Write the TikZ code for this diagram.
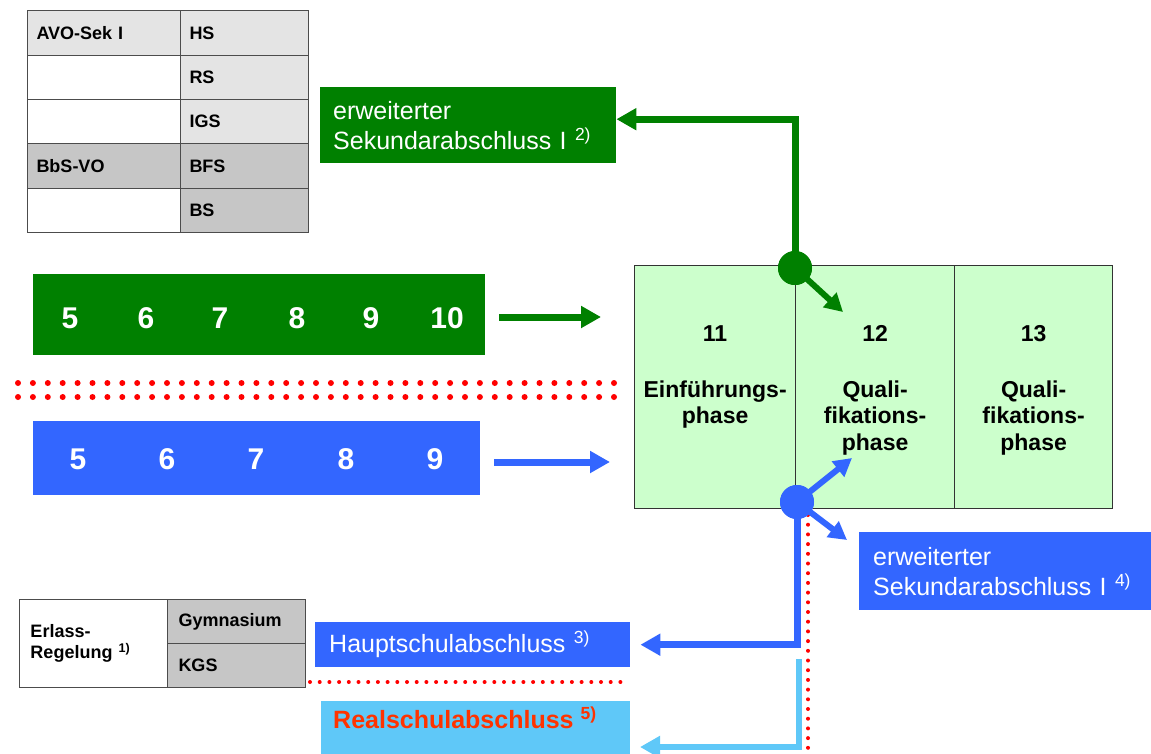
\documentclass[tikz,border=0pt]{standalone}
\usepackage{fontspec}
\setmainfont{Liberation Sans}
\usetikzlibrary{arrows.meta,calc}
\definecolor{dgreen}{RGB}{0,128,0}
\definecolor{mblue}{RGB}{51,102,255}
\definecolor{lblue}{RGB}{95,200,248}
\definecolor{lgreen}{RGB}{204,255,204}
\definecolor{lgray}{RGB}{228,228,228}
\definecolor{mgray}{RGB}{198,198,198}
\definecolor{rtext}{RGB}{255,51,0}
\begin{document}
\begin{tikzpicture}[x=1pt,y=-1pt,
  cell/.style={draw=black!70, line width=1pt, anchor=north west, inner xsep=9pt, inner ysep=0pt,
    font=\fontsize{18}{21}\selectfont\bfseries, align=left},
  lcell/.style={cell, text width=135pt},
  rcell/.style={cell, text width=110pt},
  ecell/.style={cell, inner xsep=11pt},
  barbox/.style={anchor=north west, inner sep=0pt, draw=none},
  num/.style={text=white, font=\fontsize{30}{32}\selectfont\bfseries, anchor=base, inner sep=0pt},
  res/.style={anchor=north west, inner xsep=14pt, inner ysep=0pt, text=white,
    font=\fontsize{25}{30}\selectfont, align=left},
  phcell/.style={draw=black!80, line width=1.2pt, fill=lgreen, anchor=north west, inner sep=0pt,
    minimum height=243pt},
  ph/.style={anchor=base, inner sep=0pt, font=\fontsize{23}{26}\selectfont\bfseries},
  garrow/.style={draw=dgreen, line width=7pt, -{Triangle[length=20pt,width=21pt]}},
  barrow/.style={draw=mblue, line width=7pt, -{Triangle[length=20pt,width=21pt]}},
  larrow/.style={draw=lblue, line width=6pt, -{Triangle[length=20pt,width=21pt]}},
  gdiag/.style={draw=dgreen, line width=6pt, -{Triangle[length=18pt,width=19pt]}},
  bdiag/.style={draw=mblue, line width=6pt, -{Triangle[length=18pt,width=19pt]}},
  junction/.style={circle, inner sep=0pt, minimum size=34pt},
  bigdots/.style={draw=red, line width=6pt, line cap=round, dash pattern=on 0pt off 14.9pt},
  finedots/.style={draw=red, line width=4pt, line cap=round, dash pattern=on 0pt off 9.7pt}
]
\useasboundingbox (0,0) rectangle (1151,753);
\fill[white] (0,0) rectangle (1151,753);

% top-left table
\node[lcell, fill=lgray, minimum height=45pt] (a1) at (27,10) {AVO-Sek I};
\node[lcell, fill=white, minimum height=44pt] (a2) at (27,55) {};
\node[lcell, fill=white, minimum height=44pt] (a3) at (27,99) {};
\node[lcell, fill=mgray, minimum height=45pt] (a4) at (27,143) {BbS-VO};
\node[lcell, fill=white, minimum height=44pt] (a5) at (27,188) {};
\node[rcell, fill=lgray, minimum height=45pt] (b1) at (180,10) {HS};
\node[rcell, fill=lgray, minimum height=44pt] (b2) at (180,55) {RS};
\node[rcell, fill=lgray, minimum height=44pt] (b3) at (180,99) {IGS};
\node[rcell, fill=mgray, minimum height=45pt] (b4) at (180,143) {BFS};
\node[rcell, fill=mgray, minimum height=44pt] (b5) at (180,188) {BS};

% bars
\node[barbox, fill=dgreen, minimum width=452pt, minimum height=81pt] (gbar) at (33,274) {};
\node[barbox, fill=mblue, minimum width=447pt, minimum height=74pt] (bbar) at (33,421) {};
\node[num] (g5) at (70,328) {5};
\node[num] (g6) at (146,328) {6};
\node[num] (g7) at (220,328) {7};
\node[num] (g8) at (297,328) {8};
\node[num] (g9) at (371,328) {9};
\node[num] (g10) at (447,328) {10};
\node[num] (b5n) at (78,469) {5};
\node[num] (b6n) at (167,469) {6};
\node[num] (b7n) at (256,469) {7};
\node[num] (b8n) at (346,469) {8};
\node[num] (b9n) at (435,469) {9};

% red dotted lines
\draw[bigdots] (18,383) -- (614,383);
\draw[bigdots] (18,397) -- (614,397);
\draw[finedots] (808,515) -- (808,753);
\draw[finedots] (310,682) -- (622,682);

% phase table
\node[phcell, minimum width=161pt] (m11) at (634,265) {};
\node[phcell, minimum width=159pt] (m12) at (795,265) {};
\node[phcell, minimum width=158pt] (m13) at (954,265) {};
\node[ph] (t11) at (m11.center |- 0,341) {11};
\node[ph] (t12) at (m12.center |- 0,341) {12};
\node[ph] (t13) at (m13.center |- 0,341) {13};
\node[ph] (e1) at (m11.center |- 0,397) {Einführungs-};
\node[ph] (e2) at (m11.center |- 0,423) {phase};
\node[ph] (q1) at (m12.center |- 0,397) {Quali-};
\node[ph] (q2) at (m12.center |- 0,423) {fikations-};
\node[ph] (q3) at (m12.center |- 0,450) {phase};
\node[ph] (r1) at (m13.center |- 0,397) {Quali-};
\node[ph] (r2) at (m13.center |- 0,423) {fikations-};
\node[ph] (r3) at (m13.center |- 0,450) {phase};

% result boxes
\node[res, fill=dgreen, text width=270pt, minimum height=76pt, inner xsep=13pt] (ews1) at (320,87)
  {erweiterter\\Sekundarabschluss I \textsuperscript{2)}};
\node[res, fill=mblue, text width=264pt, minimum height=78pt] (ews2) at (859,532)
  {erweiterter\\Sekundarabschluss I \textsuperscript{4)}};
\node[res, fill=mblue, text width=287pt, minimum height=45pt] (haupt) at (315,622)
  {Hauptschulabschluss \textsuperscript{3)}};
\node[barbox, fill=lblue, minimum width=309pt, minimum height=60pt] (real) at (321,701) {};
\node[anchor=west, inner sep=0pt, text=rtext, font=\fontsize{25}{30}\selectfont\bfseries]
  (realt) at (333,718) {Realschulabschluss \textsuperscript{5)}};

% Erlass table
\node[ecell, fill=white, text width=126pt, minimum height=88pt] (er) at (19,599)
  {Erlass-\\Regelung \textsuperscript{1)}};
\node[ecell, fill=mgray, text width=116pt, minimum height=44pt] (gy) at (167,599) {Gymnasium};
\node[ecell, fill=mgray, text width=116pt, minimum height=44pt] (kgs) at (167,643) {KGS};

% junctions and connectors
\node[junction, fill=dgreen] (gdot) at (795,268) {};
\node[junction, fill=mblue] (bdot) at (797,502) {};
\coordinate (ga1) at (499,317);
\coordinate (ga2) at (601,317);
\coordinate (ba1) at (494,462);
\coordinate (ba2) at (610,462);
\coordinate (gtip) at (843,312);
\coordinate (btip1) at (852,458);
\coordinate (btip2) at (847,540);
\coordinate (lbs) at (799,659);
\coordinate (lbt) at (640,747);

\draw[garrow] (ga1) -- (ga2);
\draw[barrow] (ba1) -- (ba2);
\draw[garrow] (gdot.center) |- ([yshift=6pt]ews1.east);
\draw[gdiag] (gdot.center) -- (gtip);
\draw[barrow] (bdot.center) |- ([xshift=10pt]haupt.east);
\draw[bdiag] (bdot.center) -- (btip1);
\draw[bdiag] (bdot.center) -- (btip2);
\draw[larrow] (lbs) |- (lbt);
\node[junction, fill=dgreen] at (gdot.center) {};
\node[junction, fill=mblue] at (bdot.center) {};
\end{tikzpicture}
\end{document}
